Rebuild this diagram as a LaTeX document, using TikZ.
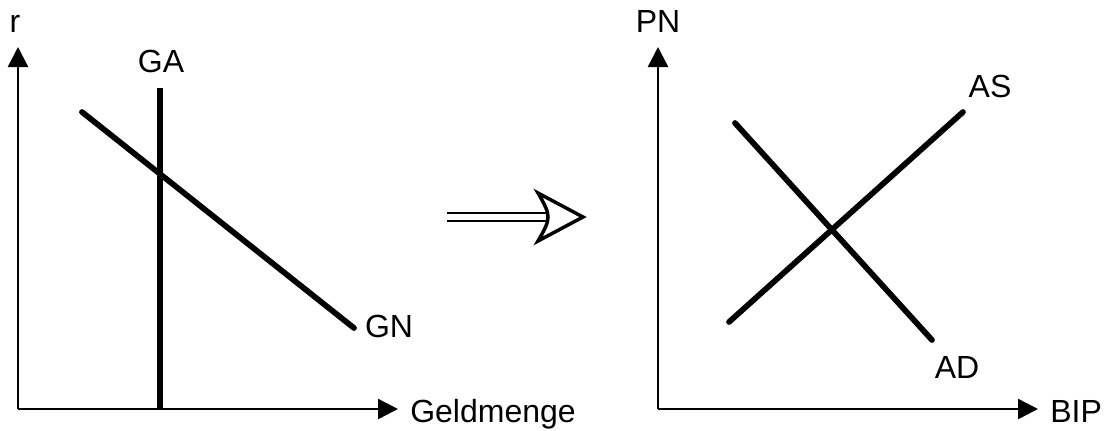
\documentclass[tikz,border=0pt]{standalone}
\usepackage{fontspec}
\setmainfont{Liberation Sans}
\usetikzlibrary{arrows.meta}
\tikzstyle{axis}=[line width=1.8pt, -{Triangle[length=15pt,width=15pt]}]
\tikzstyle{curve}=[line width=4.3pt, line cap=round]
\tikzstyle{label}=[inner sep=0pt, font=\fontsize{24}{28}\selectfont]

\begin{document}
\begin{tikzpicture}[x=0.75pt,y=-0.75pt]
    \useasboundingbox (0,0) rectangle (1110,430);

    % Left diagram: money market
    \coordinate (o1) at (18,409);
    \coordinate (ytip1) at (18,47);
    \coordinate (xtip1) at (398,409);
    \draw[axis] (o1) -- (ytip1);
    \draw[axis] (o1) -- (xtip1);
    \draw (15,32) node[label,anchor=base] (r) {r};
    \draw (410,422) node[label,anchor=base west] (geld) {Geldmenge};

    \coordinate (ga top) at (160,88);
    \coordinate (ga bot) at (160,409);
    \draw[curve,line cap=butt] (ga top) -- (ga bot);
    \draw (161,72) node[label,anchor=base] (ga) {GA};

    \coordinate (gn a) at (82,112);
    \coordinate (gn b) at (354,328);
    \draw[curve] (gn a) -- (gn b);
    \draw (389,337) node[label,anchor=base] (gn) {GN};

    % Implication arrow
    \coordinate (imp a) at (447,217);
    \coordinate (imp b) at (549,217);
    \draw[line width=1.6pt, double distance=4.5pt] (imp a) -- (imp b);
    \draw[line width=2.6pt, line join=miter, fill=white]
        (538,193) .. controls (545,205) and (548,211) .. (548,217)
        .. controls (548,223) and (545,229) .. (538,241)
        -- (583,217) -- cycle;

    % Right diagram: AS / AD
    \coordinate (o2) at (658,409);
    \coordinate (ytip2) at (658,47);
    \coordinate (xtip2) at (1038,409);
    \draw[axis] (o2) -- (ytip2);
    \draw[axis] (o2) -- (xtip2);
    \draw (658,32) node[label,anchor=base] (pn) {PN};
    \draw (1050,422) node[label,anchor=base west] (bip) {BIP};

    \coordinate (as a) at (729,322);
    \coordinate (as b) at (963,112);
    \draw[curve] (as a) -- (as b);
    \draw (990,97) node[label,anchor=base] (as) {AS};

    \coordinate (ad a) at (735,123);
    \coordinate (ad b) at (932,340);
    \draw[curve] (ad a) -- (ad b);
    \draw (957,378) node[label,anchor=base] (ad) {AD};

\end{tikzpicture}
\end{document}
